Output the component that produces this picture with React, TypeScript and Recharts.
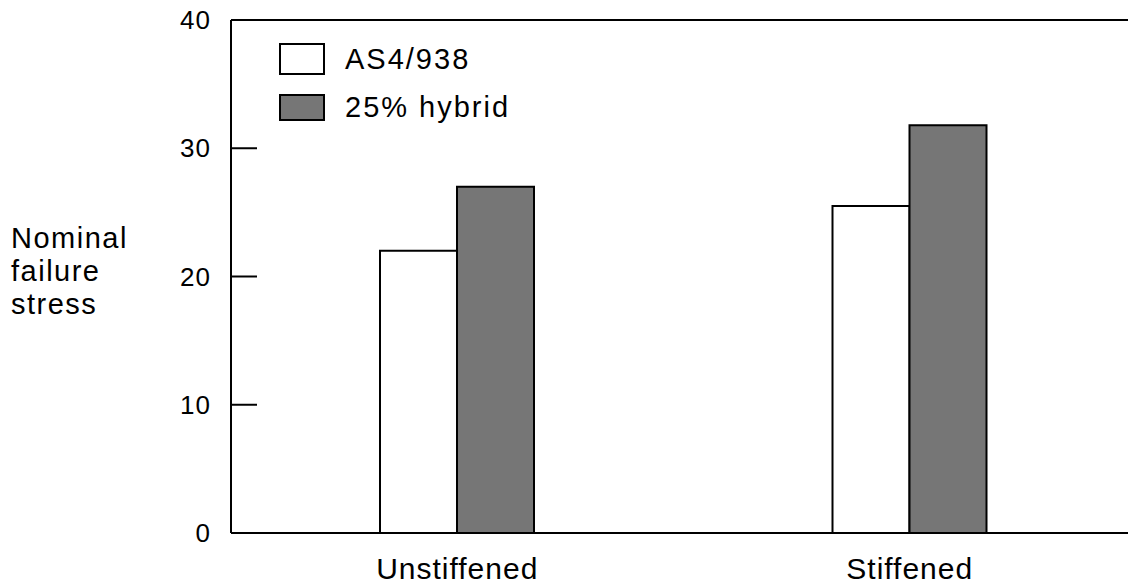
import React from 'react';
import { BarChart, Bar, XAxis, YAxis, Legend, ReferenceLine } from 'recharts';

// values
const categories = ['Unstiffened', 'Stiffened'];
const as4Values = [22, 25.5];
const hybridValues = [27, 31.8];
const yTicks = [0, 10, 20, 30, 40];
const seriesNames = ['AS4/938', '25% hybrid'];
const yLabelLines = ['Nominal', 'failure', 'stress'];

const FONT = '"Liberation Sans", Arial, Helvetica, sans-serif';
const DARK = '#767676';

const data = categories.map((c, i) => ({
  category: c,
  as4: as4Values[i],
  hybrid: hybridValues[i],
}));

function YTick(props: any) {
  const { x, y, payload } = props;
  return (
    <g>
      <line x1={x} x2={x + 26} y1={y} y2={y} stroke="#000" strokeWidth={2} />
      <text
        x={x - 20}
        y={y}
        dy={9}
        textAnchor="end"
        fontSize={26}
        fontFamily={FONT}
        fill="#000"
        letterSpacing={1}
      >
        {payload.value}
      </text>
    </g>
  );
}

function YLabel() {
  return (
    <text x={11} y={248} fontSize={29} fontFamily={FONT} fill="#000" letterSpacing={1.5}>
      {yLabelLines.map((line, i) => (
        <tspan key={line} x={11} y={248 + i * 33}>
          {line}
        </tspan>
      ))}
    </text>
  );
}

function LegendBox(props: any) {
  const { payload } = props;
  return (
    <div style={{ fontFamily: FONT }}>
      {(payload || []).map((entry: any, i: number) => (
        <div
          key={entry.value}
          style={{ display: 'flex', alignItems: 'center', height: 48 }}
        >
          <div
            style={{
              width: 46,
              height: i === 0 ? 32 : 27,
              boxSizing: 'border-box',
              border: '2px solid #000',
              background: entry.color,
            }}
          />
          <span style={{ marginLeft: 20, fontSize: 29, letterSpacing: 2, color: '#000' }}>
            {entry.value}
          </span>
        </div>
      ))}
    </div>
  );
}

export default function App() {
  return (
    <div style={{ position: 'absolute', left: 0, top: 0, background: '#fff' }}>
      <BarChart
        width={1128}
        height={584}
        data={data}
        margin={{ top: 20, right: -8, left: 0, bottom: 0 }}
        barGap={0}
        barSize={77}
      >
        <XAxis
          dataKey="category"
          height={51}
          tickLine={false}
          tickSize={0}
          tickMargin={25}
          axisLine={{ stroke: '#000', strokeWidth: 2 }}
          tick={{ fontSize: 30, fontFamily: FONT, fill: '#000', letterSpacing: 1 }}
        />
        <YAxis
          width={231}
          domain={[0, 40]}
          ticks={yTicks}
          interval={0}
          tickLine={false}
          tickSize={0}
          tickMargin={0}
          axisLine={{ stroke: '#000', strokeWidth: 2 }}
          tick={<YTick />}
          label={<YLabel />}
        />
        <ReferenceLine y={40} stroke="#000" strokeWidth={2} />
        <Legend
          layout="vertical"
          verticalAlign="middle"
          align="center"
          itemSorter={(item: any) => seriesNames.indexOf(item.value)}
          content={<LegendBox />}
          wrapperStyle={{ left: 279, top: 35, width: 320 }}
        />
        <Bar
          dataKey="as4"
          name={seriesNames[0]}
          fill="#ffffff"
          stroke="#000"
          strokeWidth={2}
          isAnimationActive={false}
        />
        <Bar
          dataKey="hybrid"
          name={seriesNames[1]}
          fill={DARK}
          stroke="#000"
          strokeWidth={2}
          isAnimationActive={false}
        />
      </BarChart>
    </div>
  );
}
